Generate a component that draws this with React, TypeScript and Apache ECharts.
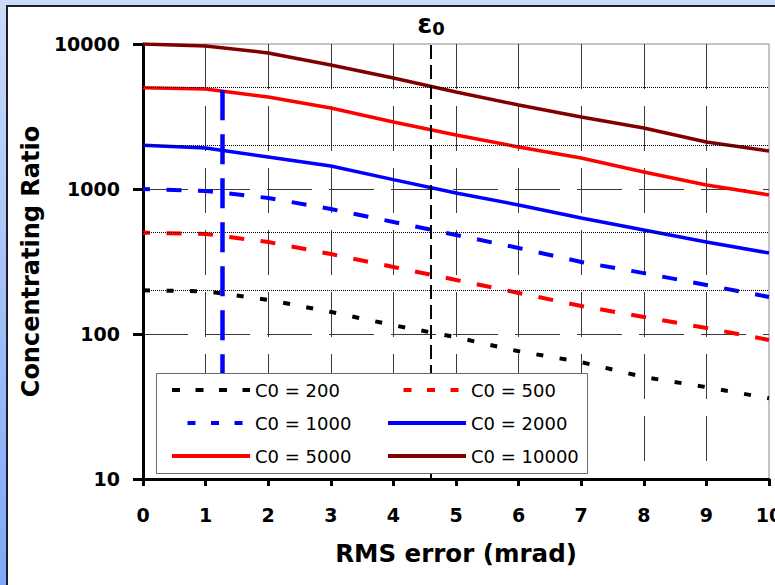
import React, { useEffect, useRef } from "react";
import * as echarts from "echarts";

const xValues = [0, 1, 2, 3, 4, 5, 6, 7, 8, 9, 10];
const c200 = [200, 197, 172, 142, 115, 95, 76, 64, 50.5, 43, 36];
const c500 = [500, 490, 431, 356, 290, 236, 192, 156, 131, 110, 91];
const c1000 = [1000, 970, 867, 728, 592, 482, 392, 314, 263, 218, 180];
const c2000 = [2000, 1918, 1662, 1440, 1160, 938, 776, 631, 521, 431, 362];
const c5000 = [5000, 4900, 4310, 3620, 2900, 2356, 1950, 1636, 1310, 1066, 910];
const c10000 = [10000, 9690, 8680, 7160, 5830, 4670, 3795, 3140, 2636, 2110, 1830];

const seriesNames = ["C0 = 200", "C0 = 500", "C0 = 1000", "C0 = 2000", "C0 = 5000", "C0 = 10000"];
const minorLines = [200, 500, 2000, 5000];
const epsilon0 = 4.6;
const markerX = 1.26;
const markerTop = 4800;

const FONT = "DejaVu Sans";

export default function App() {
  const ref = useRef<HTMLDivElement>(null);
  useEffect(() => {
    const chart = echarts.init(ref.current!, null, { renderer: "svg" });
    const pairs = (ys: number[]) => xValues.map((x, i) => [x, ys[i]]);
    const dashedShort = [7, 16.5];
    const dashedLong = [15, 16.5];
    const legendDash = [8, 15.5];
    const base = { type: "line", symbol: "none", smooth: false, z: 3, silent: true };
    const legendCommon = {
      top: 380, orient: "vertical", padding: 0, itemGap: 13, itemWidth: 78, itemHeight: 14, z: 10,
      selectedMode: false,
      itemStyle: { opacity: 0, color: "transparent", borderWidth: 0 },
      lineStyle: { width: 4 },
      textStyle: { fontFamily: FONT, fontSize: 18, color: "#000", lineHeight: 20 },
    };
    const option: any = {
      animation: false,
      grid: { left: 143, top: 44, right: 31, bottom: 106, show: true, borderColor: "#8a8a8a", borderWidth: 1, backgroundColor: "transparent" },
      xAxis: {
        type: "value", min: 0, max: 10, interval: 1,
        axisLine: { show: true, lineStyle: { color: "#000", width: 3 } },
        axisTick: { show: true, length: 7, lineStyle: { color: "#000", width: 3 } },
        axisLabel: { margin: 26, fontFamily: FONT, fontWeight: "bold", fontSize: 19, color: "#000", hideOverlap: false },
        splitLine: { show: true, showMinLine: false, showMaxLine: false, lineStyle: { color: "#3a3a3a", width: 1, type: [45, 17] } },
        name: "RMS error (mrad)", nameLocation: "middle", nameGap: 62,
        nameTextStyle: { fontFamily: FONT, fontWeight: "bold", fontSize: 24.5, color: "#000" },
      },
      yAxis: {
        type: "log", logBase: 10, min: 10, max: 10000,
        axisLine: { show: true, lineStyle: { color: "#000", width: 3 } },
        axisTick: { show: true, length: 10, lineStyle: { color: "#000", width: 3 } },
        minorTick: { show: false },
        axisLabel: { margin: 23, fontFamily: FONT, fontWeight: "bold", fontSize: 19, color: "#000", formatter: (v: number) => String(Math.round(v)) },
        splitLine: { show: true, showMinLine: false, showMaxLine: false, lineStyle: { color: "#3a3a3a", width: 1, type: [45, 17] } },
        name: "Concentrating Ratio", nameLocation: "middle", nameGap: 100,
        nameTextStyle: { fontFamily: FONT, fontWeight: "bold", fontSize: 24, color: "#000" },
      },
      legend: [
        {
          ...legendCommon, left: 170,
          data: [
            { name: seriesNames[0], lineStyle: { type: legendDash, width: 4 } },
            { name: seriesNames[2], lineStyle: { type: legendDash, width: 4 } },
            { name: seriesNames[4] },
          ],
        },
        {
          ...legendCommon, left: 386,
          data: [
            { name: seriesNames[1], lineStyle: { type: legendDash, width: 4 } },
            { name: seriesNames[3] },
            { name: seriesNames[5] },
          ],
        },
      ],
      graphic: [
        {
          type: "rect", left: 156, top: 373, z: 8,
          shape: { width: 431, height: 100 },
          style: { fill: "#fff", stroke: "#6a6a6a", lineWidth: 1 },
        },
      ],
      series: [
        {
          type: "line", name: "", data: [], z: 1, silent: true,
          markLine: {
            silent: true, symbol: ["none", "none"], label: { show: false },
            lineStyle: { color: "#000", width: 1, type: [1, 1] },
            data: minorLines.map((v) => ({ yAxis: v })),
          },
        },
        { ...base, name: seriesNames[0], data: pairs(c200), lineStyle: { color: "#000", width: 4, type: dashedShort }, itemStyle: { color: "#000" } },
        { ...base, name: seriesNames[1], data: pairs(c500), lineStyle: { color: "#ff0000", width: 4, type: dashedLong, dashOffset: 8 }, itemStyle: { color: "#ff0000" } },
        { ...base, name: seriesNames[2], data: pairs(c1000), lineStyle: { color: "#0000ff", width: 4, type: dashedLong, dashOffset: 8 }, itemStyle: { color: "#0000ff" } },
        { ...base, name: seriesNames[3], data: pairs(c2000), lineStyle: { color: "#0000ff", width: 3.5 }, itemStyle: { color: "#0000ff" } },
        { ...base, name: seriesNames[4], data: pairs(c5000), lineStyle: { color: "#ff0000", width: 3.5 }, itemStyle: { color: "#ff0000" } },
        {
          ...base, name: seriesNames[5], data: pairs(c10000), lineStyle: { color: "#800000", width: 3.5 }, itemStyle: { color: "#800000" },
          markLine: {
            silent: true, symbol: ["none", "none"],
            lineStyle: { color: "#000", width: 2, type: [14, 6] },
            label: {
              show: true, position: "end", distance: 7,
              formatter: "{e|ε}{s|0}",
              rich: {
                e: { fontFamily: FONT, fontWeight: "bold", fontSize: 27, color: "#000" },
                s: { fontFamily: FONT, fontWeight: "bold", fontSize: 18, color: "#000", verticalAlign: "bottom", padding: [10, 0, 0, 0] },
              },
            },
            data: [
              [{ coord: [epsilon0, 10] }, { coord: [epsilon0, 10000] }],
              [
                { coord: [markerX, markerTop], lineStyle: { color: "#0000ff", width: 4.5, type: [30, 14] }, label: { show: false } },
                { coord: [markerX, 10] },
              ],
            ],
          },
        },
      ],
    };
    chart.setOption(option);
    return () => chart.dispose();
  }, []);
  return (
    <div style={{ position: "fixed", left: 0, top: 0, width: 775, height: 585, overflow: "hidden", background: "linear-gradient(#cbdbf9, #7ea8f6)" }}>
      <div style={{ position: "absolute", left: 6, top: 5, width: 820, height: 640, background: "#fff", borderLeft: "2px solid #1c1c2c", borderTop: "2px solid #1c1c2c" }} />
      <div ref={ref} style={{ position: "absolute", left: 0, top: 0, width: 800, height: 585 }} />
    </div>
  );
}
